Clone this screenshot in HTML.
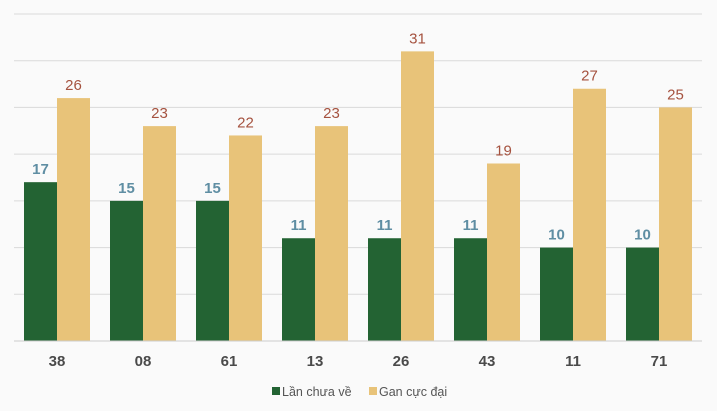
<!DOCTYPE html>
<html><head><meta charset="utf-8"><style>
html,body{margin:0;padding:0;background:#fafafa;}
svg{display:block;font-family:"Liberation Sans",sans-serif;}
</style></head><body>
<svg id="c" width="717" height="411"></svg>
<script>
const categories=["38","08","61","13","26","43","11","71"];
const seriesA=[17,15,15,11,11,11,10,10];
const seriesB=[26,23,22,23,31,19,27,25];
const yTicks=[0,5,10,15,20,25,30,35];
const NS="http://www.w3.org/2000/svg";
const svgEl=document.getElementById('c');
const plotLeft=14,plotRight=702,plotTop=14,plotBase=341,yMax=35;
const yScale=v=>plotBase-(v/yMax)*(plotBase-plotTop);
const gw=(plotRight-plotLeft)/categories.length;
const xScale=i=>plotLeft+gw*i+gw/2;
const bw=33;
function mk(t,a){const e=document.createElementNS(NS,t);for(const k in a)e.setAttribute(k,a[k]);svgEl.appendChild(e);return e;}
yTicks.forEach(t=>{
 const l=mk('line',{x1:plotLeft,x2:plotRight,y1:yScale(t),y2:yScale(t),stroke:'#d9d9d9','stroke-width':1});
 
 
});
categories.forEach((c,i)=>{
 const cx=xScale(i);
 const a=mk('rect',{x:cx-bw,y:yScale(seriesA[i]),width:bw,height:plotBase-yScale(seriesA[i]),fill:'#236333'});
 
 
 const b=mk('rect',{x:cx,y:yScale(seriesB[i]),width:bw,height:plotBase-yScale(seriesB[i]),fill:'#e8c379'});
 
 
 const ta=mk('text',{x:cx-bw/2,y:yScale(seriesA[i])-8,'text-anchor':'middle','font-size':15,'font-weight':'bold',fill:'#5f8ea3'});
 ta.textContent=seriesA[i];
 
 
 const tb=mk('text',{x:cx+bw/2,y:yScale(seriesB[i])-8,'text-anchor':'middle','font-size':15,fill:'#a5523f'});
 tb.textContent=seriesB[i];
 
 
 const tx=mk('text',{x:cx,y:366,'text-anchor':'middle','font-size':15,'font-weight':'bold',fill:'#4a4a4a'});
 tx.textContent=c;
 
 
});
const bl=mk('line',{x1:plotLeft,x2:plotRight,y1:plotBase,y2:plotBase,stroke:'#cccccc','stroke-width':1});


const l1=mk('rect',{x:272,y:387,width:8,height:8,fill:'#236333'});


const l1t=mk('text',{x:282,y:396,'font-size':12.5,fill:'#555'});
l1t.textContent='Lần chưa về';


const l2=mk('rect',{x:369,y:387,width:8,height:8,fill:'#e8c379'});


const l2t=mk('text',{x:379,y:396,'font-size':12.5,fill:'#555'});
l2t.textContent='Gan cực đại';


</script>
</body></html>
